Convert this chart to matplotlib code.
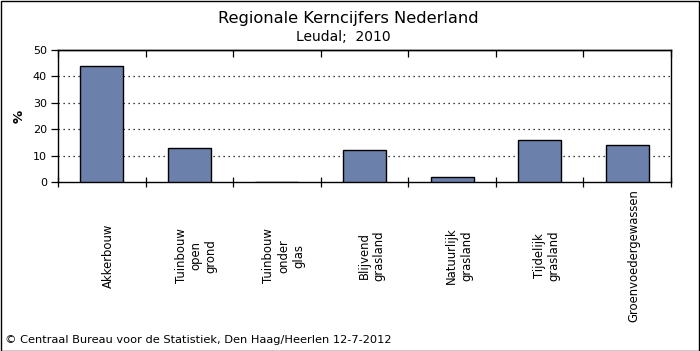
import matplotlib
matplotlib.use('Agg')
import matplotlib.pyplot as plt
import matplotlib.transforms as mtransforms
from matplotlib.patches import Rectangle

# data
categories = ['Akkerbouw', 'Tuinbouw\nopen\ngrond', 'Tuinbouw\nonder\nglas',
              'Blijvend\ngrasland', 'Natuurlijk\ngrasland', 'Tijdelijk\ngrasland',
              'Groenvoedergewassen']
values = [44, 13, 0, 12, 2, 16, 14]
yticks = [0, 10, 20, 30, 40, 50]

plt.rcParams['font.family'] = ['DejaVu Sans']

W, H = 700, 351
fig = plt.figure(figsize=(W / 100, H / 100), dpi=100)
# axes: x 58..671, y 50..182 (pixels from top)
ax = fig.add_axes([58 / W, 1 - 182 / H, (671 - 58) / W, (182 - 50) / H])

n = len(categories)
x = list(range(n))
ax.bar(x, values, width=0.49, color='#6b80aa', edgecolor='black', linewidth=1, zorder=3)

ax.set_xlim(-0.5, n - 0.5)
ax.set_ylim(0, 50)
ax.set_yticks(yticks)
ax.set_yticklabels([str(v) for v in yticks], fontsize=8)
for v in yticks[1:-1]:
    ax.axhline(v, color='black', linestyle=(0, (1, 3)), linewidth=0.9, zorder=1)

# category boundary ticks: crossing at the bottom, inward at the top
bounds = [i - 0.5 for i in range(n + 1)]
ax.set_xticks(bounds)
ax.set_xticklabels([])
ax.tick_params(axis='x', direction='inout', length=7, width=0.9, bottom=True, top=False)
sec = ax.secondary_xaxis('top')
sec.set_xticks(bounds)
sec.set_xticklabels([])
sec.tick_params(direction='in', length=5, width=0.9)
sec.spines['top'].set_linewidth(1)
ax.tick_params(axis='y', direction='out', length=5, width=0.9, pad=3)
for s in ax.spines.values():
    s.set_linewidth(1)

trans = mtransforms.blended_transform_factory(ax.transData, ax.transAxes)
for xi, lab in zip(x, categories):
    ax.text(xi + 0.08, (182 - 256) / 132, lab, rotation=90, ha='center', va='center',
            multialignment='center', fontsize=8.4, transform=trans, linespacing=1.2)

ax.set_ylabel('%', fontsize=9.5, fontweight='bold', labelpad=5)

fig.text(0.498, 1 - 18 / H, 'Regionale Kerncijfers Nederland', ha='center', va='center',
         fontsize=11.7)
fig.text(0.49, 1 - 37 / H, 'Leudal;  2010', ha='center', va='center', fontsize=10)
fig.text(5 / W, 1 - 340 / H, '© Centraal Bureau voor de Statistiek, Den Haag/Heerlen 12-7-2012',
         ha='left', va='center', fontsize=8.2)

fig.patches.append(Rectangle((0.5 / W, 0.5 / H), 1 - 1.5 / W, 1 - 1.5 / H, transform=fig.transFigure,
                             fill=False, edgecolor='black', linewidth=1))

fig.savefig('out.png', dpi=100)
